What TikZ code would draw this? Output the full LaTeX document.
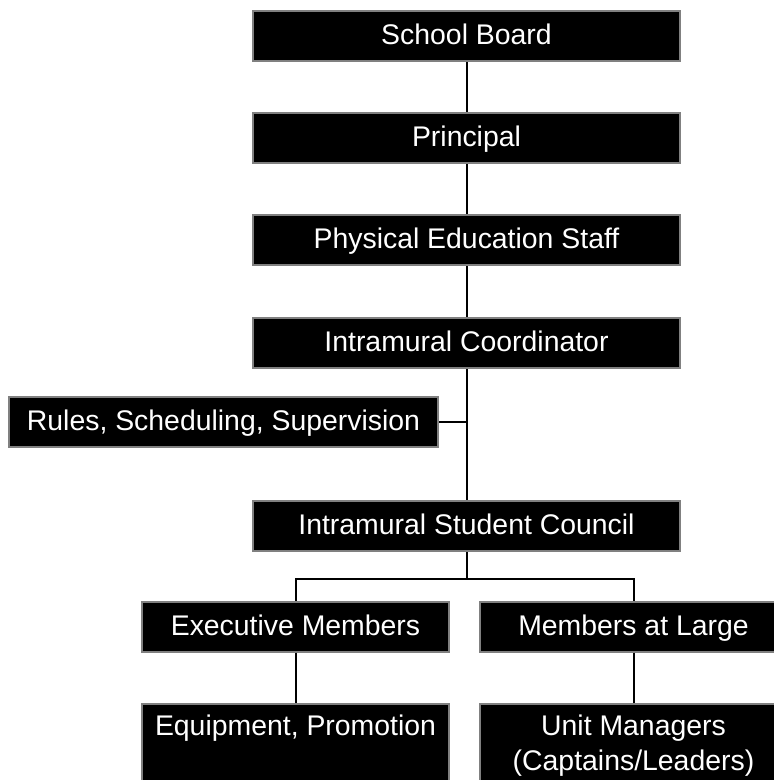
\documentclass[tikz,border=0pt]{standalone}
\usepackage{fontspec}
\setmainfont{Liberation Sans}

\tikzset{
  box/.style={draw=gray,line width=2pt,fill=black,text=white,inner sep=0pt,
    minimum height=50pt,text height=21pt,text depth=4pt,
    font=\fontsize{28.4}{35}\selectfont},
  wide/.style={box,minimum width=427pt},
  half/.style={box,minimum width=307pt},
  lowbox/.style={half,anchor=north,inner ysep=10pt,text depth=60pt,align=center},
  link/.style={black,line width=2pt}
}

\begin{document}
\begin{tikzpicture}[x=1pt,y=-1pt]
\useasboundingbox (0,0) rectangle (774,780);
\clip (0,0) rectangle (774,780);

% boxes down the middle:
\node[wide] (board) at (466.5,36) {School Board};
\node[wide] (principal) at (466.5,138) {Principal};
\node[wide] (staff) at (466.5,240) {Physical Education Staff};
\node[wide] (coord) at (466.5,343) {Intramural Coordinator};
\node[box,minimum width=429pt] (rules) at (223.5,422) {Rules, Scheduling, Supervision};
\node[wide] (council) at (466.5,526) {Intramural Student Council};

% two branches:
\node[half] (exec) at (295.5,626.5) {Executive Members};
\node[half] (large) at (633.5,626.5) {Members at Large};
\node[lowbox] (equip) at (295.5,703) {Equipment, Promotion};
\node[lowbox,text height=56pt,text depth=25pt] (units) at (633.5,703) {Unit Managers\\(Captains/Leaders)};

% connectors:
\coordinate (ruleslink) at (rules.east -| coord.south);
\coordinate (split) at (466.5,579);
\draw[link] (board) -- (principal);
\draw[link] (principal) -- (staff);
\draw[link] (staff) -- (coord);
\draw[link] (coord) -- (council);
\draw[link] (rules) -- (ruleslink);
\draw[link] (council) -- (split);
\draw[link] (exec.north) |- (split) -| (large.north);
\draw[link] (exec) -- (equip);
\draw[link] (large) -- (units);

\end{tikzpicture}
\end{document}
